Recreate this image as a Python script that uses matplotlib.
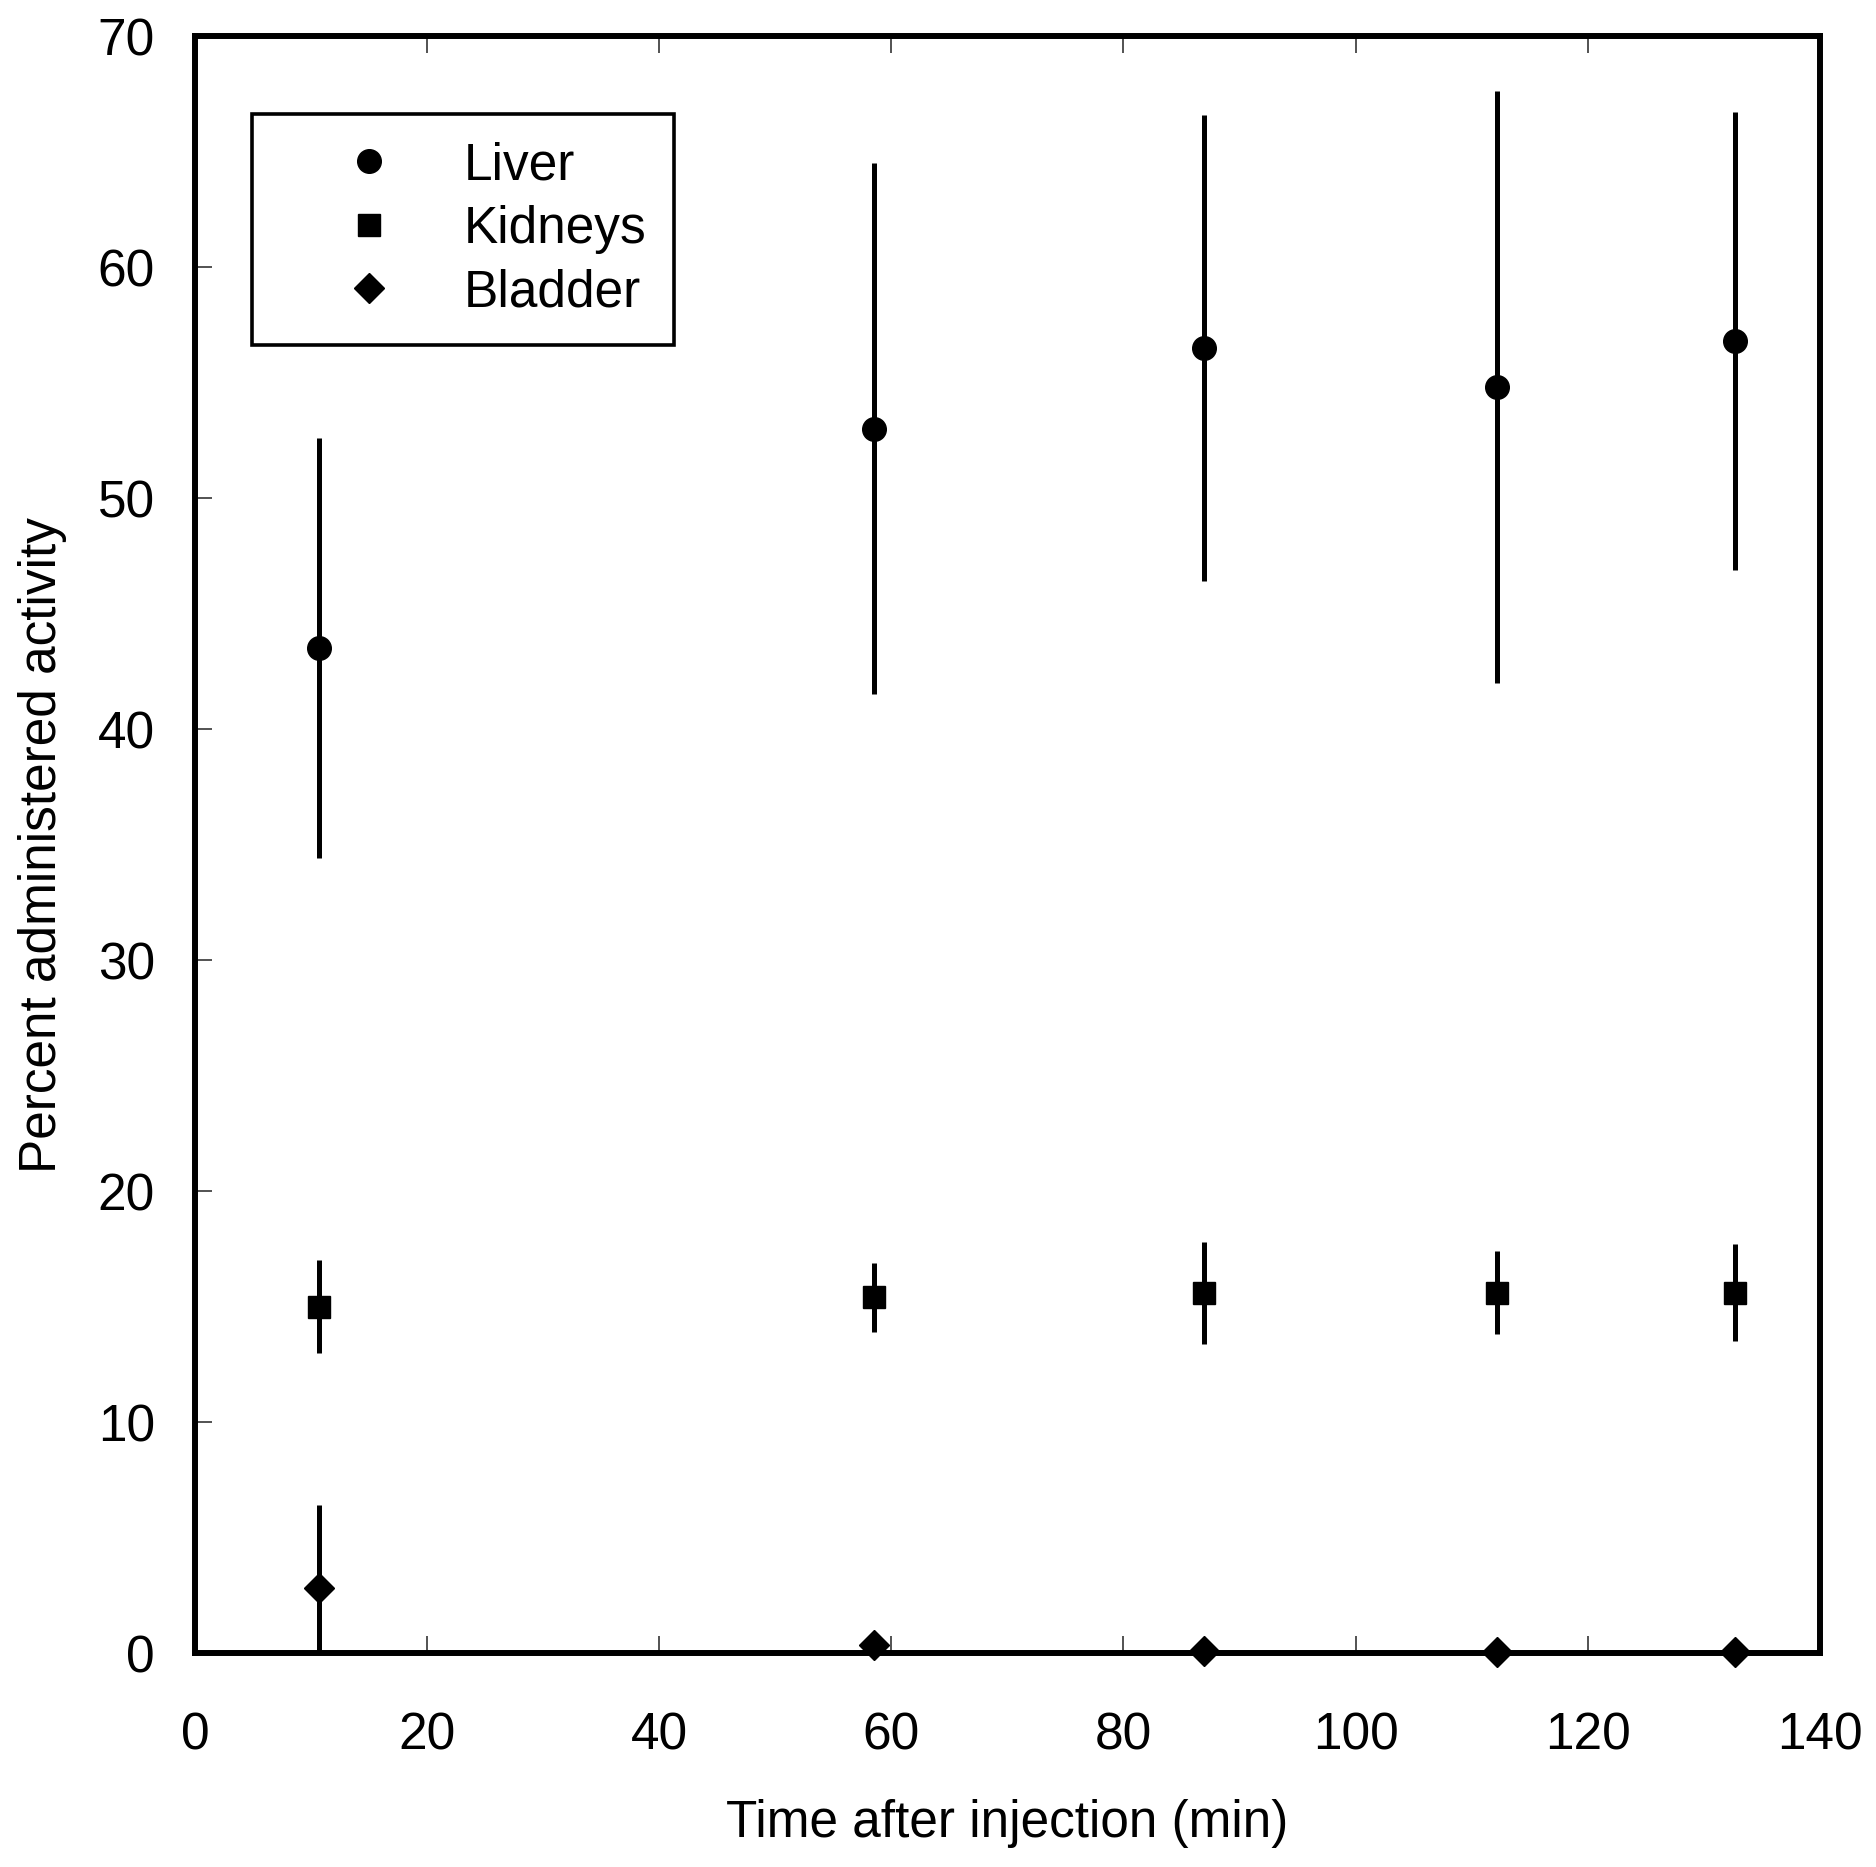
import numpy as np
import matplotlib
matplotlib.use("Agg")
import matplotlib.pyplot as plt
from matplotlib.lines import Line2D

plt.rcParams['font.family'] = ['Liberation Sans', 'DejaVu Sans']

time_min = [10.7, 58.5, 86.9, 112.2, 132.7]

liver = [43.5, 53.0, 56.5, 54.8, 56.8]
liver_err = [9.1, 11.5, 10.1, 12.8, 9.9]

kidneys = [15.0, 15.4, 15.6, 15.6, 15.6]
kidneys_err = [2.0, 1.5, 2.2, 1.8, 2.1]

bladder = [2.8, 0.35, 0.1, 0.05, 0.05]
bladder_err = [3.6, 0.0, 0.0, 0.0, 0.0]

fig = plt.figure(figsize=(18.76, 18.67), dpi=100)
ax = fig.add_axes([0.104, 0.1146, 0.866, 0.8661])

ax.errorbar(time_min, liver, yerr=liver_err, fmt='o', color='black', ms=17,
            elinewidth=3.6, capsize=0, zorder=3)
ax.errorbar(time_min, kidneys, yerr=kidneys_err, fmt='s', color='black', ms=16,
            elinewidth=3.6, capsize=0, zorder=3)
eb = ax.errorbar(time_min, bladder, yerr=bladder_err, fmt='D', color='black', ms=15,
                 elinewidth=3.6, capsize=0, zorder=5)
eb[0].set_clip_on(False)

ax.set_xlim(0, 140)
ax.set_ylim(0, 70)
ax.set_xticks(np.arange(0, 141, 20))
ax.set_yticks(np.arange(0, 71, 10))
ax.tick_params(direction='in', length=12, width=1.3, color='#444444',
               labelsize=37, top=True, right=False)
ax.tick_params(axis='x', pad=42)
ax.tick_params(axis='y', pad=29)
for s in ax.spines.values():
    s.set_linewidth(4.3)

ax.set_xlabel('Time after injection (min)', fontsize=37, labelpad=28)
ax.set_ylabel('Percent administered activity', fontsize=37, labelpad=22)

handles = [Line2D([], [], marker='o', ls='none', color='black', ms=17),
           Line2D([], [], marker='s', ls='none', color='black', ms=16),
           Line2D([], [], marker='D', ls='none', color='black', ms=15)]
leg = ax.legend(handles, ['Liver', 'Kidneys', 'Bladder'], loc='upper left',
                bbox_to_anchor=(0.035, 0.952), fontsize=37, frameon=True,
                fancybox=False, edgecolor='black', framealpha=1,
                handletextpad=0.12, labelspacing=0.28, borderpad=0.54,
                handlelength=3.46, borderaxespad=0)
leg.get_frame().set_linewidth(2.6)

fig.savefig('out.png', dpi=100)
